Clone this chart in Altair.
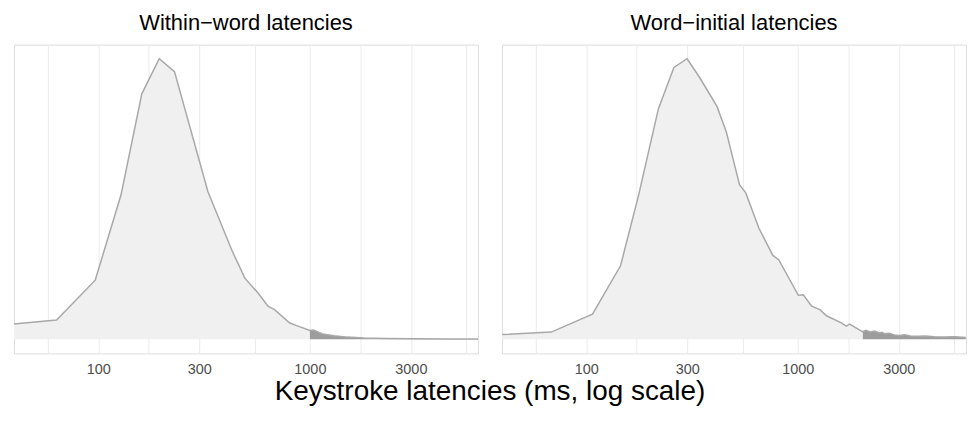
import altair as alt
import pandas as pd

# ---- data ----
left_ms = [39.8, 63.6, 96.8, 128.2, 160.7, 194.2, 229.3, 330, 426.6, 493, 569, 634, 681, 801, 860, 1000]
left_y = [0.055, 0.069, 0.211, 0.515, 0.875, 1.0, 0.954, 0.526, 0.32, 0.218, 0.165, 0.118, 0.106, 0.059, 0.050, 0.032]
left_tail_ms = [1000, 1040, 1147, 1300, 1502, 1800, 2300, 3100, 4500, 6250]
left_tail_y = [0.032, 0.033, 0.019, 0.013, 0.008, 0.005, 0.003, 0.002, 0.0015, 0.0015]

right_ms = [40.1, 68.4, 107.1, 145.3, 176.9, 219.3, 259.7, 299.7, 343.6, 414.8, 459.5, 500.6, 530,
            567.5, 655, 761.6, 812, 1005, 1061, 1162, 1272, 1366, 1605, 1694, 1758, 2028]
right_y = [0.017, 0.026, 0.090, 0.262, 0.514, 0.821, 0.969, 1.0, 0.933, 0.830, 0.739, 0.626, 0.551,
           0.522, 0.396, 0.299, 0.284, 0.157, 0.159, 0.118, 0.106, 0.084, 0.059, 0.047, 0.054, 0.027]
right_tail_ms = [2028, 2094, 2200, 2300, 2427, 2500, 2561, 2703, 2850, 3009, 3200, 3400, 3733, 4000,
                 4400, 4969, 5500, 6210]
right_tail_y = [0.027, 0.032, 0.026, 0.030, 0.023, 0.025, 0.020, 0.022, 0.016, 0.014, 0.016, 0.012,
                0.011, 0.012, 0.009, 0.008, 0.009, 0.007]

titles = ["Within\u2212word latencies", "Word\u2212initial latencies"]
tick_values = [57.7, 100, 173.2, 300, 547.7, 1000, 1732, 3000, 5477]
major_ticks = [100, 300, 1000, 3000]
x_domain = [40, 6230]

FONT = "Liberation Sans"


def panel(ms, y, tail_ms, tail_y, title):
    main = pd.DataFrame({"ms": ms, "dens": y})
    tail = pd.DataFrame({"ms": tail_ms, "dens": tail_y})
    full = pd.concat([main, tail.iloc[1:]], ignore_index=True)

    x = alt.X(
        "ms:Q",
        scale=alt.Scale(type="log", domain=x_domain, nice=False, zero=False),
        axis=alt.Axis(
            values=tick_values,
            labelExpr="indexof(" + str(major_ticks) + ", datum.value) >= 0 ? datum.label : ''",
            format="d",
            title=None,
            grid=True,
            gridColor="#ebebeb",
            gridWidth=1,
            ticks=False,
            domain=False,
            labelFont=FONT,
            labelFontSize=14.5,
            labelColor="#4d4d4d",
            labelPadding=9,
        ),
    )
    y_enc = alt.Y(
        "dens:Q",
        scale=alt.Scale(domain=[-0.05, 1.05], nice=False, zero=False),
        axis=None,
    )

    light = alt.Chart(main).mark_area(color="#f0f0f0", clip=True).encode(
        x=x, y=y_enc, y2=alt.datum(0)
    )
    dark = alt.Chart(tail).mark_area(color="#9c9c9c", clip=True).encode(
        x=x, y=y_enc, y2=alt.datum(0)
    )
    line = alt.Chart(full).mark_line(color="#a8a8a8", strokeWidth=1.5, clip=True).encode(
        x=x, y=y_enc
    )
    return alt.layer(light, dark, line).properties(
        width=466,
        height=310,
        title=alt.TitleParams(
            title, font=FONT, fontSize=22, fontWeight="normal", color="black", offset=10
        ),
    )


left = panel(left_ms, left_y, left_tail_ms, left_tail_y, titles[0])
right = panel(right_ms, right_y, right_tail_ms, right_tail_y, titles[1])

chart = (
    alt.hconcat(left, right, spacing=22)
    .properties(
        padding={"left": 5, "right": 1, "top": 2, "bottom": 2},
        title=alt.TitleParams(
            "Keystroke latencies (ms, log scale)",
            orient="bottom",
            anchor="middle",
            font=FONT,
            fontSize=28,
            fontWeight="normal",
            color="black",
            offset=2,
        ),
    )
    .configure_view(stroke="#d9d9d9", strokeWidth=1)
    .configure(background="white")
)

chart.save("out.html", embed_options={"renderer": "svg", "actions": False})
